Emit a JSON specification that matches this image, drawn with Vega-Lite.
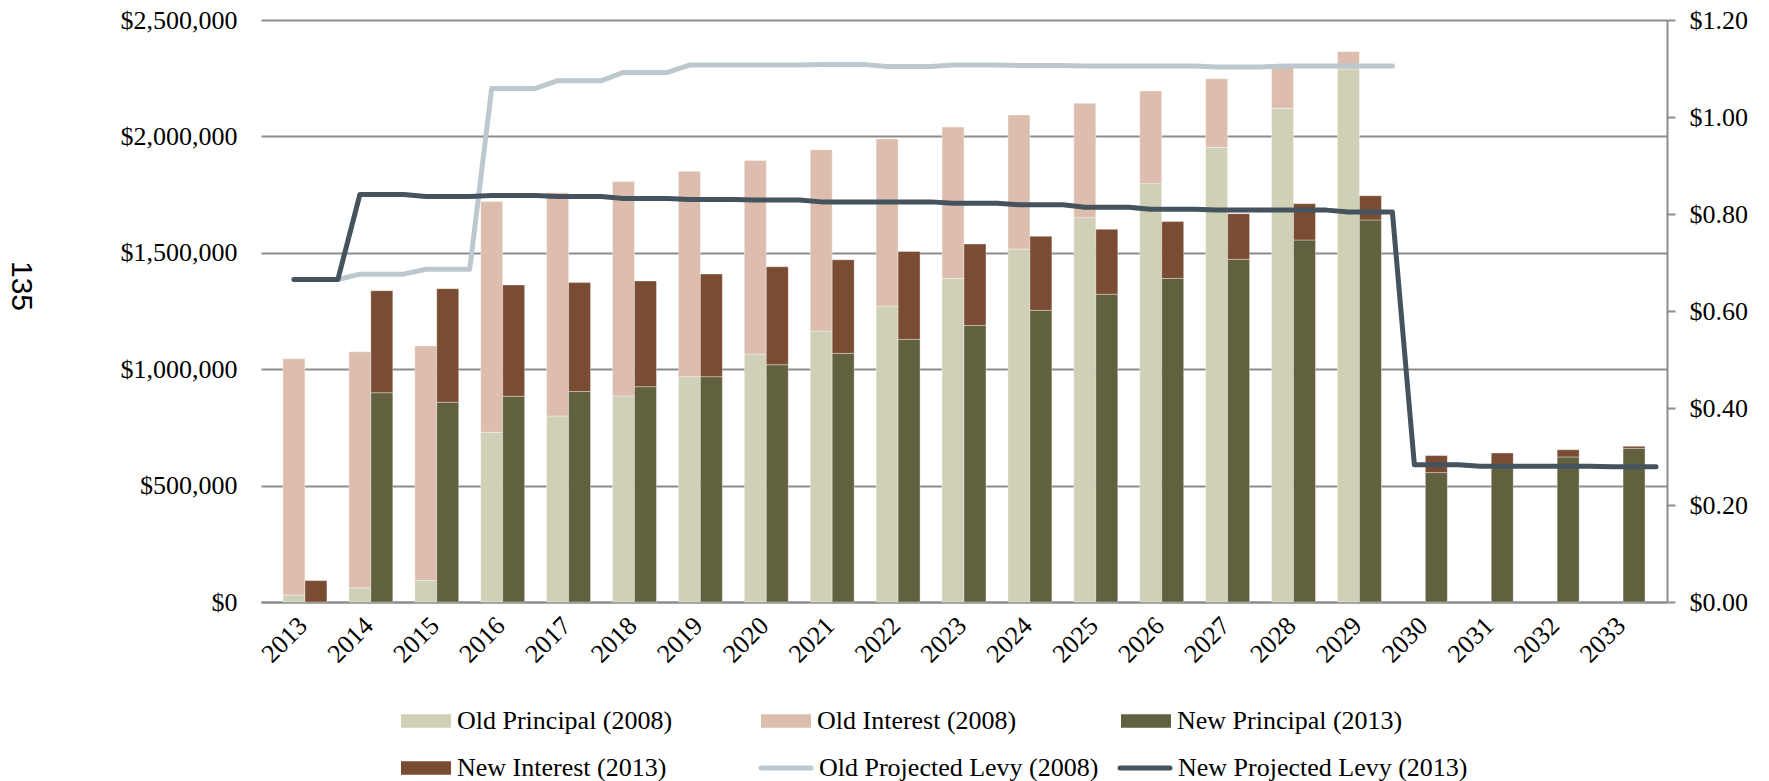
{
  "$schema": "https://vega.github.io/schema/vega-lite/v6.json",
  "autosize": {"type": "none"},
  "width": 1406,
  "height": 582,
  "padding": {"left": 261, "top": 20, "right": 102, "bottom": 179},
  "background": "white",
  "title": {
    "text": "135",
    "orient": "left",
    "angle": 90,
    "anchor": "middle",
    "font": "Liberation Sans",
    "fontSize": 30,
    "fontWeight": "normal",
    "color": "#000000",
    "offset": 54,
    "dx": -25
  },
  "config": {
    "view": {"stroke": null},
    "font": "Liberation Serif"
  },
  "datasets": {
    "bars": [
      {"slot": "2013 Old", "series": "Old Principal (2008)", "amount": 30000},
      {"slot": "2013 Old", "series": "Old Interest (2008)", "amount": 1015000},
      {"slot": "2014 Old", "series": "Old Principal (2008)", "amount": 61000},
      {"slot": "2014 Old", "series": "Old Interest (2008)", "amount": 1014000},
      {"slot": "2015 Old", "series": "Old Principal (2008)", "amount": 92000},
      {"slot": "2015 Old", "series": "Old Interest (2008)", "amount": 1008000},
      {"slot": "2016 Old", "series": "Old Principal (2008)", "amount": 729000},
      {"slot": "2016 Old", "series": "Old Interest (2008)", "amount": 991000},
      {"slot": "2017 Old", "series": "Old Principal (2008)", "amount": 799000},
      {"slot": "2017 Old", "series": "Old Interest (2008)", "amount": 959000},
      {"slot": "2018 Old", "series": "Old Principal (2008)", "amount": 885000},
      {"slot": "2018 Old", "series": "Old Interest (2008)", "amount": 921000},
      {"slot": "2019 Old", "series": "Old Principal (2008)", "amount": 968000},
      {"slot": "2019 Old", "series": "Old Interest (2008)", "amount": 882000},
      {"slot": "2020 Old", "series": "Old Principal (2008)", "amount": 1065000},
      {"slot": "2020 Old", "series": "Old Interest (2008)", "amount": 832000},
      {"slot": "2021 Old", "series": "Old Principal (2008)", "amount": 1164000},
      {"slot": "2021 Old", "series": "Old Interest (2008)", "amount": 779000},
      {"slot": "2022 Old", "series": "Old Principal (2008)", "amount": 1271000},
      {"slot": "2022 Old", "series": "Old Interest (2008)", "amount": 718000},
      {"slot": "2023 Old", "series": "Old Principal (2008)", "amount": 1390000},
      {"slot": "2023 Old", "series": "Old Interest (2008)", "amount": 650000},
      {"slot": "2024 Old", "series": "Old Principal (2008)", "amount": 1516000},
      {"slot": "2024 Old", "series": "Old Interest (2008)", "amount": 576000},
      {"slot": "2025 Old", "series": "Old Principal (2008)", "amount": 1651000},
      {"slot": "2025 Old", "series": "Old Interest (2008)", "amount": 491000},
      {"slot": "2026 Old", "series": "Old Principal (2008)", "amount": 1797000},
      {"slot": "2026 Old", "series": "Old Interest (2008)", "amount": 398000},
      {"slot": "2027 Old", "series": "Old Principal (2008)", "amount": 1953000},
      {"slot": "2027 Old", "series": "Old Interest (2008)", "amount": 295000},
      {"slot": "2028 Old", "series": "Old Principal (2008)", "amount": 2121000},
      {"slot": "2028 Old", "series": "Old Interest (2008)", "amount": 184000},
      {"slot": "2029 Old", "series": "Old Principal (2008)", "amount": 2290000},
      {"slot": "2029 Old", "series": "Old Interest (2008)", "amount": 74000},
      {"slot": "2013 New", "series": "New Interest (2013)", "amount": 92000},
      {"slot": "2014 New", "series": "New Principal (2013)", "amount": 899000},
      {"slot": "2014 New", "series": "New Interest (2013)", "amount": 438000},
      {"slot": "2015 New", "series": "New Principal (2013)", "amount": 858000},
      {"slot": "2015 New", "series": "New Interest (2013)", "amount": 488000},
      {"slot": "2016 New", "series": "New Principal (2013)", "amount": 884000},
      {"slot": "2016 New", "series": "New Interest (2013)", "amount": 478000},
      {"slot": "2017 New", "series": "New Principal (2013)", "amount": 904000},
      {"slot": "2017 New", "series": "New Interest (2013)", "amount": 468000},
      {"slot": "2018 New", "series": "New Principal (2013)", "amount": 925000},
      {"slot": "2018 New", "series": "New Interest (2013)", "amount": 454000},
      {"slot": "2019 New", "series": "New Principal (2013)", "amount": 968000},
      {"slot": "2019 New", "series": "New Interest (2013)", "amount": 441000},
      {"slot": "2020 New", "series": "New Principal (2013)", "amount": 1019000},
      {"slot": "2020 New", "series": "New Interest (2013)", "amount": 421000},
      {"slot": "2021 New", "series": "New Principal (2013)", "amount": 1068000},
      {"slot": "2021 New", "series": "New Interest (2013)", "amount": 402000},
      {"slot": "2022 New", "series": "New Principal (2013)", "amount": 1128000},
      {"slot": "2022 New", "series": "New Interest (2013)", "amount": 378000},
      {"slot": "2023 New", "series": "New Principal (2013)", "amount": 1188000},
      {"slot": "2023 New", "series": "New Interest (2013)", "amount": 350000},
      {"slot": "2024 New", "series": "New Principal (2013)", "amount": 1253000},
      {"slot": "2024 New", "series": "New Interest (2013)", "amount": 318000},
      {"slot": "2025 New", "series": "New Principal (2013)", "amount": 1322000},
      {"slot": "2025 New", "series": "New Interest (2013)", "amount": 279000},
      {"slot": "2026 New", "series": "New Principal (2013)", "amount": 1390000},
      {"slot": "2026 New", "series": "New Interest (2013)", "amount": 244000},
      {"slot": "2027 New", "series": "New Principal (2013)", "amount": 1472000},
      {"slot": "2027 New", "series": "New Interest (2013)", "amount": 196000},
      {"slot": "2028 New", "series": "New Principal (2013)", "amount": 1555000},
      {"slot": "2028 New", "series": "New Interest (2013)", "amount": 156000},
      {"slot": "2029 New", "series": "New Principal (2013)", "amount": 1641000},
      {"slot": "2029 New", "series": "New Interest (2013)", "amount": 104000},
      {"slot": "2030 New", "series": "New Principal (2013)", "amount": 556000},
      {"slot": "2030 New", "series": "New Interest (2013)", "amount": 73000},
      {"slot": "2031 New", "series": "New Principal (2013)", "amount": 588000},
      {"slot": "2031 New", "series": "New Interest (2013)", "amount": 52000},
      {"slot": "2032 New", "series": "New Principal (2013)", "amount": 623000},
      {"slot": "2032 New", "series": "New Interest (2013)", "amount": 31000},
      {"slot": "2033 New", "series": "New Principal (2013)", "amount": 660000},
      {"slot": "2033 New", "series": "New Interest (2013)", "amount": 9000}
    ],
    "oldLevy": [
      {"slot": "2013 Old", "series": "Old Projected Levy (2008)", "levy": 0.665},
      {"slot": "2013 New", "series": "Old Projected Levy (2008)", "levy": 0.665},
      {"slot": "2013 Gap", "series": "Old Projected Levy (2008)", "levy": 0.665},
      {"slot": "2014 Old", "series": "Old Projected Levy (2008)", "levy": 0.676},
      {"slot": "2014 New", "series": "Old Projected Levy (2008)", "levy": 0.676},
      {"slot": "2014 Gap", "series": "Old Projected Levy (2008)", "levy": 0.676},
      {"slot": "2015 Old", "series": "Old Projected Levy (2008)", "levy": 0.686},
      {"slot": "2015 New", "series": "Old Projected Levy (2008)", "levy": 0.686},
      {"slot": "2015 Gap", "series": "Old Projected Levy (2008)", "levy": 0.686},
      {"slot": "2016 Old", "series": "Old Projected Levy (2008)", "levy": 1.059},
      {"slot": "2016 New", "series": "Old Projected Levy (2008)", "levy": 1.059},
      {"slot": "2016 Gap", "series": "Old Projected Levy (2008)", "levy": 1.059},
      {"slot": "2017 Old", "series": "Old Projected Levy (2008)", "levy": 1.075},
      {"slot": "2017 New", "series": "Old Projected Levy (2008)", "levy": 1.075},
      {"slot": "2017 Gap", "series": "Old Projected Levy (2008)", "levy": 1.075},
      {"slot": "2018 Old", "series": "Old Projected Levy (2008)", "levy": 1.092},
      {"slot": "2018 New", "series": "Old Projected Levy (2008)", "levy": 1.092},
      {"slot": "2018 Gap", "series": "Old Projected Levy (2008)", "levy": 1.092},
      {"slot": "2019 Old", "series": "Old Projected Levy (2008)", "levy": 1.107},
      {"slot": "2019 New", "series": "Old Projected Levy (2008)", "levy": 1.107},
      {"slot": "2019 Gap", "series": "Old Projected Levy (2008)", "levy": 1.107},
      {"slot": "2020 Old", "series": "Old Projected Levy (2008)", "levy": 1.107},
      {"slot": "2020 New", "series": "Old Projected Levy (2008)", "levy": 1.107},
      {"slot": "2020 Gap", "series": "Old Projected Levy (2008)", "levy": 1.107},
      {"slot": "2021 Old", "series": "Old Projected Levy (2008)", "levy": 1.108},
      {"slot": "2021 New", "series": "Old Projected Levy (2008)", "levy": 1.108},
      {"slot": "2021 Gap", "series": "Old Projected Levy (2008)", "levy": 1.108},
      {"slot": "2022 Old", "series": "Old Projected Levy (2008)", "levy": 1.104},
      {"slot": "2022 New", "series": "Old Projected Levy (2008)", "levy": 1.104},
      {"slot": "2022 Gap", "series": "Old Projected Levy (2008)", "levy": 1.104},
      {"slot": "2023 Old", "series": "Old Projected Levy (2008)", "levy": 1.107},
      {"slot": "2023 New", "series": "Old Projected Levy (2008)", "levy": 1.107},
      {"slot": "2023 Gap", "series": "Old Projected Levy (2008)", "levy": 1.107},
      {"slot": "2024 Old", "series": "Old Projected Levy (2008)", "levy": 1.106},
      {"slot": "2024 New", "series": "Old Projected Levy (2008)", "levy": 1.106},
      {"slot": "2024 Gap", "series": "Old Projected Levy (2008)", "levy": 1.106},
      {"slot": "2025 Old", "series": "Old Projected Levy (2008)", "levy": 1.105},
      {"slot": "2025 New", "series": "Old Projected Levy (2008)", "levy": 1.105},
      {"slot": "2025 Gap", "series": "Old Projected Levy (2008)", "levy": 1.105},
      {"slot": "2026 Old", "series": "Old Projected Levy (2008)", "levy": 1.105},
      {"slot": "2026 New", "series": "Old Projected Levy (2008)", "levy": 1.105},
      {"slot": "2026 Gap", "series": "Old Projected Levy (2008)", "levy": 1.105},
      {"slot": "2027 Old", "series": "Old Projected Levy (2008)", "levy": 1.103},
      {"slot": "2027 New", "series": "Old Projected Levy (2008)", "levy": 1.103},
      {"slot": "2027 Gap", "series": "Old Projected Levy (2008)", "levy": 1.103},
      {"slot": "2028 Old", "series": "Old Projected Levy (2008)", "levy": 1.105},
      {"slot": "2028 New", "series": "Old Projected Levy (2008)", "levy": 1.105},
      {"slot": "2028 Gap", "series": "Old Projected Levy (2008)", "levy": 1.105},
      {"slot": "2029 Old", "series": "Old Projected Levy (2008)", "levy": 1.105},
      {"slot": "2029 New", "series": "Old Projected Levy (2008)", "levy": 1.105},
      {"slot": "2029 Gap", "series": "Old Projected Levy (2008)", "levy": 1.105}
    ],
    "newLevy": [
      {"slot": "2013 Old", "series": "New Projected Levy (2013)", "levy": 0.665},
      {"slot": "2013 New", "series": "New Projected Levy (2013)", "levy": 0.665},
      {"slot": "2013 Gap", "series": "New Projected Levy (2013)", "levy": 0.665},
      {"slot": "2014 Old", "series": "New Projected Levy (2013)", "levy": 0.840},
      {"slot": "2014 New", "series": "New Projected Levy (2013)", "levy": 0.840},
      {"slot": "2014 Gap", "series": "New Projected Levy (2013)", "levy": 0.840},
      {"slot": "2015 Old", "series": "New Projected Levy (2013)", "levy": 0.836},
      {"slot": "2015 New", "series": "New Projected Levy (2013)", "levy": 0.836},
      {"slot": "2015 Gap", "series": "New Projected Levy (2013)", "levy": 0.836},
      {"slot": "2016 Old", "series": "New Projected Levy (2013)", "levy": 0.838},
      {"slot": "2016 New", "series": "New Projected Levy (2013)", "levy": 0.838},
      {"slot": "2016 Gap", "series": "New Projected Levy (2013)", "levy": 0.838},
      {"slot": "2017 Old", "series": "New Projected Levy (2013)", "levy": 0.836},
      {"slot": "2017 New", "series": "New Projected Levy (2013)", "levy": 0.836},
      {"slot": "2017 Gap", "series": "New Projected Levy (2013)", "levy": 0.836},
      {"slot": "2018 Old", "series": "New Projected Levy (2013)", "levy": 0.832},
      {"slot": "2018 New", "series": "New Projected Levy (2013)", "levy": 0.832},
      {"slot": "2018 Gap", "series": "New Projected Levy (2013)", "levy": 0.832},
      {"slot": "2019 Old", "series": "New Projected Levy (2013)", "levy": 0.830},
      {"slot": "2019 New", "series": "New Projected Levy (2013)", "levy": 0.830},
      {"slot": "2019 Gap", "series": "New Projected Levy (2013)", "levy": 0.830},
      {"slot": "2020 Old", "series": "New Projected Levy (2013)", "levy": 0.829},
      {"slot": "2020 New", "series": "New Projected Levy (2013)", "levy": 0.829},
      {"slot": "2020 Gap", "series": "New Projected Levy (2013)", "levy": 0.829},
      {"slot": "2021 Old", "series": "New Projected Levy (2013)", "levy": 0.825},
      {"slot": "2021 New", "series": "New Projected Levy (2013)", "levy": 0.825},
      {"slot": "2021 Gap", "series": "New Projected Levy (2013)", "levy": 0.825},
      {"slot": "2022 Old", "series": "New Projected Levy (2013)", "levy": 0.825},
      {"slot": "2022 New", "series": "New Projected Levy (2013)", "levy": 0.825},
      {"slot": "2022 Gap", "series": "New Projected Levy (2013)", "levy": 0.825},
      {"slot": "2023 Old", "series": "New Projected Levy (2013)", "levy": 0.822},
      {"slot": "2023 New", "series": "New Projected Levy (2013)", "levy": 0.822},
      {"slot": "2023 Gap", "series": "New Projected Levy (2013)", "levy": 0.822},
      {"slot": "2024 Old", "series": "New Projected Levy (2013)", "levy": 0.819},
      {"slot": "2024 New", "series": "New Projected Levy (2013)", "levy": 0.819},
      {"slot": "2024 Gap", "series": "New Projected Levy (2013)", "levy": 0.819},
      {"slot": "2025 Old", "series": "New Projected Levy (2013)", "levy": 0.814},
      {"slot": "2025 New", "series": "New Projected Levy (2013)", "levy": 0.814},
      {"slot": "2025 Gap", "series": "New Projected Levy (2013)", "levy": 0.814},
      {"slot": "2026 Old", "series": "New Projected Levy (2013)", "levy": 0.810},
      {"slot": "2026 New", "series": "New Projected Levy (2013)", "levy": 0.810},
      {"slot": "2026 Gap", "series": "New Projected Levy (2013)", "levy": 0.810},
      {"slot": "2027 Old", "series": "New Projected Levy (2013)", "levy": 0.808},
      {"slot": "2027 New", "series": "New Projected Levy (2013)", "levy": 0.808},
      {"slot": "2027 Gap", "series": "New Projected Levy (2013)", "levy": 0.808},
      {"slot": "2028 Old", "series": "New Projected Levy (2013)", "levy": 0.808},
      {"slot": "2028 New", "series": "New Projected Levy (2013)", "levy": 0.808},
      {"slot": "2028 Gap", "series": "New Projected Levy (2013)", "levy": 0.808},
      {"slot": "2029 Old", "series": "New Projected Levy (2013)", "levy": 0.804},
      {"slot": "2029 New", "series": "New Projected Levy (2013)", "levy": 0.804},
      {"slot": "2029 Gap", "series": "New Projected Levy (2013)", "levy": 0.804},
      {"slot": "2030 Old", "series": "New Projected Levy (2013)", "levy": 0.283},
      {"slot": "2030 New", "series": "New Projected Levy (2013)", "levy": 0.283},
      {"slot": "2030 Gap", "series": "New Projected Levy (2013)", "levy": 0.283},
      {"slot": "2031 Old", "series": "New Projected Levy (2013)", "levy": 0.280},
      {"slot": "2031 New", "series": "New Projected Levy (2013)", "levy": 0.280},
      {"slot": "2031 Gap", "series": "New Projected Levy (2013)", "levy": 0.280},
      {"slot": "2032 Old", "series": "New Projected Levy (2013)", "levy": 0.280},
      {"slot": "2032 New", "series": "New Projected Levy (2013)", "levy": 0.280},
      {"slot": "2032 Gap", "series": "New Projected Levy (2013)", "levy": 0.280},
      {"slot": "2033 Old", "series": "New Projected Levy (2013)", "levy": 0.279},
      {"slot": "2033 New", "series": "New Projected Levy (2013)", "levy": 0.279},
      {"slot": "2033 Gap", "series": "New Projected Levy (2013)", "levy": 0.279}
    ]
  },
  "encoding": {
    "x": {
      "field": "slot",
      "type": "ordinal",
      "scale": {
        "paddingInner": 0,
        "paddingOuter": 0,
        "domain": ["Lead",
          "2013 Old", "2013 New", "2013 Gap", "2014 Old", "2014 New", "2014 Gap",
          "2015 Old", "2015 New", "2015 Gap", "2016 Old", "2016 New", "2016 Gap",
          "2017 Old", "2017 New", "2017 Gap", "2018 Old", "2018 New", "2018 Gap",
          "2019 Old", "2019 New", "2019 Gap", "2020 Old", "2020 New", "2020 Gap",
          "2021 Old", "2021 New", "2021 Gap", "2022 Old", "2022 New", "2022 Gap",
          "2023 Old", "2023 New", "2023 Gap", "2024 Old", "2024 New", "2024 Gap",
          "2025 Old", "2025 New", "2025 Gap", "2026 Old", "2026 New", "2026 Gap",
          "2027 Old", "2027 New", "2027 Gap", "2028 Old", "2028 New", "2028 Gap",
          "2029 Old", "2029 New", "2029 Gap", "2030 Old", "2030 New", "2030 Gap",
          "2031 Old", "2031 New", "2031 Gap", "2032 Old", "2032 New", "2032 Gap",
          "2033 Old", "2033 New", "2033 Gap"]
      },
      "axis": {
        "title": null,
        "labelExpr": "indexof(datum.value, ' Old') > 0 ? slice(datum.value, 0, 4) : ''",
        "labelAngle": -45,
        "labelFont": "Liberation Serif",
        "labelFontSize": 26,
        "labelColor": "#000000",
        "labelOverlap": false,
        "labelPadding": 10,
        "ticks": false,
        "grid": false,
        "domainColor": "#8c8c8c",
        "domainWidth": 2
      }
    }
  },
  "layer": [
    {
      "data": {"name": "bars"},
      "mark": {"type": "bar", "stroke": "#ffffff", "strokeWidth": 1, "strokeOpacity": 0.35},
      "encoding": {
        "y": {
          "field": "amount",
          "type": "quantitative",
          "stack": "zero",
          "scale": {"domain": [0, 2500000], "nice": false},
          "axis": {
            "title": null,
            "values": [0, 500000, 1000000, 1500000, 2000000, 2500000],
            "format": "$,.0f",
            "labelFont": "Liberation Serif",
            "labelFontSize": 26,
            "labelColor": "#000000",
            "labelPadding": 24,
            "domain": false,
            "ticks": false,
            "grid": true,
            "gridColor": "#8c8c8c",
            "gridWidth": 2
          }
        },
        "fill": {
          "field": "series",
          "type": "nominal",
          "scale": {
            "domain": ["Old Principal (2008)", "Old Interest (2008)", "New Principal (2013)", "New Interest (2013)"],
            "range": ["#D0D0B6", "#DDBEAE", "#61613F", "#7A4C33"]
          },
          "legend": {
            "orient": "none",
            "legendX": 152,
            "legendY": 688,
            "direction": "horizontal",
            "columns": 3,
            "gridAlign": "all",
            "title": null,
            "padding": 0,
            "labelFont": "Liberation Serif",
            "labelFontSize": 26,
            "labelColor": "#000000",
            "labelOffset": 18,
            "labelLimit": 400,
            "symbolSize": 625,
            "symbolType": "M-2,-0.54H2V0.54H-2Z",
            "symbolStrokeWidth": 0,
            "columnPadding": 78,
            "rowPadding": 21
          }
        },
        "order": {"field": "series", "sort": "descending"}
      }
    },
    {
      "encoding": {
        "y": {
          "field": "levy",
          "type": "quantitative",
          "scale": {"domain": [0, 1.2], "nice": false},
          "axis": {
            "title": null,
            "orient": "right",
            "values": [0, 0.2, 0.4, 0.6, 0.8, 1.0, 1.2],
            "format": "$.2f",
            "labelFont": "Liberation Serif",
            "labelFontSize": 26,
            "labelColor": "#000000",
            "labelPadding": 14,
            "domain": true,
            "domainColor": "#8c8c8c",
            "domainWidth": 2,
            "ticks": true,
            "tickColor": "#8c8c8c",
            "tickWidth": 2,
            "tickSize": 8,
            "grid": false
          }
        },
        "stroke": {
          "field": "series",
          "type": "nominal",
          "scale": {
            "domain": ["Old Projected Levy (2008)", "New Projected Levy (2013)"],
            "range": ["#BDC8CE", "#44535D"]
          },
          "legend": {
            "orient": "none",
            "legendX": 510,
            "legendY": 733,
            "direction": "horizontal",
            "columns": 2,
            "gridAlign": "all",
            "title": null,
            "padding": 0,
            "labelFont": "Liberation Serif",
            "labelFontSize": 26,
            "labelColor": "#000000",
            "labelOffset": 18,
            "labelLimit": 400,
            "symbolSize": 625,
            "symbolType": "M-2,0H2",
            "symbolStrokeWidth": 5,
            "columnPadding": 1,
            "encode": {
              "symbols": {
                "update": {
                  "strokeCap": {"value": "round"}
                }
              }
            }
          }
        }
      },
      "layer": [
        {
          "data": {"name": "oldLevy"},
          "mark": {"type": "line", "strokeWidth": 5, "strokeCap": "round", "strokeJoin": "round"}
        },
        {
          "data": {"name": "newLevy"},
          "mark": {"type": "line", "strokeWidth": 5, "strokeCap": "round", "strokeJoin": "round"}
        }
      ]
    }
  ],
  "resolve": {"scale": {"y": "independent"}}
}
